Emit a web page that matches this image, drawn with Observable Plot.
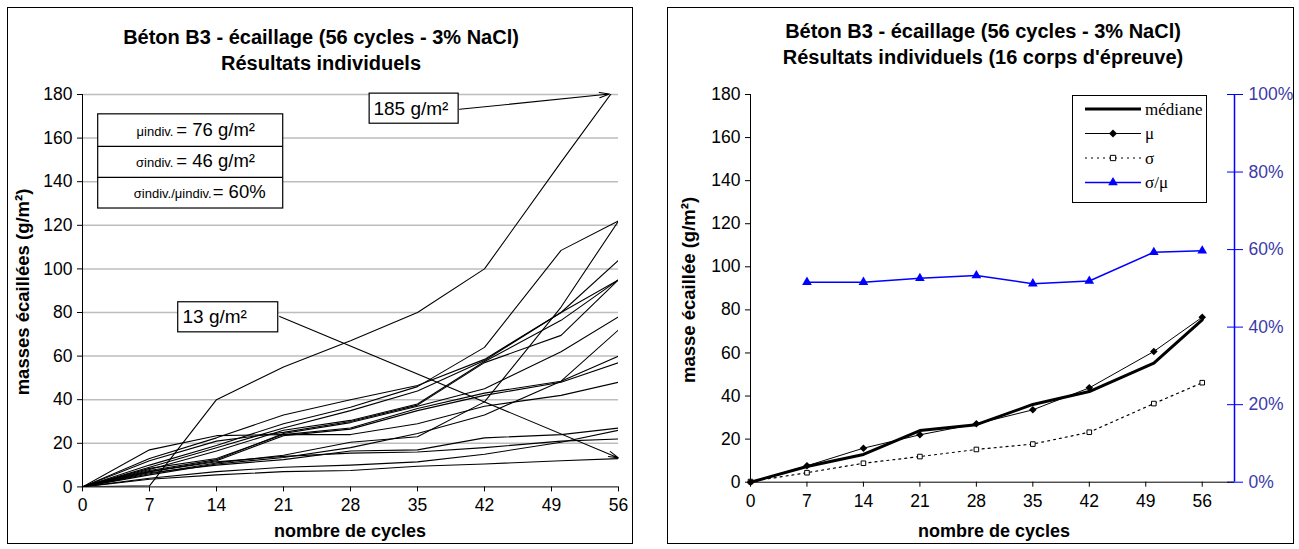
<!DOCTYPE html>
<html><head><meta charset="utf-8">
<script src="https://cdn.jsdelivr.net/npm/d3@7"></script>
<script src="https://cdn.jsdelivr.net/npm/@observablehq/plot@0.6"></script>
<style>
body{margin:0;background:#fff;width:1299px;height:549px;position:relative;overflow:hidden;font-family:"Liberation Sans",Arial,sans-serif;color:#000;}
.panel{position:absolute;border:1px solid #000;box-sizing:border-box;}
.title{position:absolute;text-align:center;font-weight:bold;font-size:20px;line-height:26px;white-space:nowrap;}
.abs{position:absolute;}
.xlab{position:absolute;font-weight:bold;font-size:18px;text-align:center;white-space:nowrap;transform:translate(-50%,-50%);}
.ylab{position:absolute;font-weight:bold;font-size:18.5px;white-space:nowrap;transform:translate(-50%,-50%) rotate(-90deg);}
.legend{position:absolute;border:1.5px solid #000;background:#fff;box-sizing:border-box;}
</style></head><body>
<div class="panel" style="left:7px;top:7px;width:626px;height:537px"></div>
<div class="panel" style="left:667px;top:7px;width:627px;height:537px"></div>
<div class="title" style="left:21px;width:600px;top:24px">Béton B3 - écaillage (56 cycles - 3% NaCl)<br>Résultats individuels</div>
<div class="title" style="left:683px;width:600px;top:18px">Béton B3 - écaillage (56 cycles - 3% NaCl)<br>Résultats individuels (16 corps d'épreuve)</div>
<div class="xlab" style="left:350px;top:531px">nombre de cycles</div>
<div class="xlab" style="left:994px;top:531px">nombre de cycles</div>
<div class="ylab" style="left:23px;top:292px">masses écaillées (g/m²)</div>
<div class="ylab" style="left:689px;top:290px">masse écaillée (g/m²)</div>
<div id="left" class="abs" style="left:0;top:80px"></div>
<div id="right" class="abs" style="left:660px;top:80px"></div>
<div id="legend" class="legend" style="left:1072px;top:95px;width:135px;height:108px"></div>
<script>
// ---------- data ----------
const cycles = [0, 7, 14, 21, 28, 35, 42, 50, 56];
const xTicks = [0, 7, 14, 21, 28, 35, 42, 49, 56];
const yTicks = [0, 20, 40, 60, 80, 100, 120, 140, 160, 180];
const pctTicks = [0, 20, 40, 60, 80, 100];

// individual specimens (g/m²)
const s01 = [0, 0.5, 40, 55, 67, 80, 100, 149, 185];
const s02 = [0, 10, 19, 29, 36.5, 46, 64, 108.5, 122];
const s03 = [0, 6, 11, 14.5, 20.5, 23, 39, 82.5, 122];
const s04 = [0, 9, 18, 27, 35, 44, 58, 80, 104];
const s05 = [0, 13, 22.5, 33, 40, 46.5, 58.5, 80, 95];
const s06 = [0, 8, 16.5, 26, 30.5, 38, 57.5, 76.4, 95];
const s07 = [0, 12, 21, 25, 30, 37.5, 57, 69.5, 95];
const s08 = [0, 7.5, 12.5, 24.5, 29.5, 37, 45, 62, 78];
const s09 = [0, 5.5, 10.5, 13.5, 18, 24.5, 33, 48.5, 72];
const s10 = [0, 8.5, 13, 24, 27, 36, 43, 48.5, 60];
const s11 = [0, 7, 12, 23.5, 26.5, 35, 42, 48, 57];
const s12 = [0, 17, 23.5, 24, 24, 29, 37, 42, 48];
const s13 = [0, 6.5, 10, 12.5, 16.5, 17, 22.5, 24, 27];
const s14 = [0, 4, 7, 9, 10, 11.5, 15, 20.5, 26];
const s15 = [0, 7, 11.5, 14, 15.5, 16, 18, 21, 22];
const s16 = [0, 3.5, 5.5, 7, 7.5, 9.5, 10.5, 12, 13];
const specimens = [s01, s02, s03, s04, s05, s06, s07, s08, s09, s10, s11, s12, s13, s14, s15, s16];

// summary statistics
const medianVals = [0, 7.3, 12.9, 24, 26.7, 36.1, 42.1, 55.3, 75.4];
const meanVals = [0, 7.6, 15.8, 22, 27.1, 33.6, 43.8, 60.7, 76.6];
const sigmaVals = [0.3, 4.4, 8.8, 11.9, 15.2, 17.7, 23.2, 36.5, 46.2];
const ratioCycles = [7, 14, 21, 28, 35, 42, 50, 56];
const ratioPct = [51.6, 51.6, 52.6, 53.3, 51.2, 51.9, 59.3, 59.7];

// annotations of the left chart (data coordinates)
const calloutBoxes = [
  {x1: 10.0, x2: 20.45, y1: 70.9, y2: 84.7},
  {x1: 30.0, x2: 39.3, y1: 166.6, y2: 180.4}
];
const calloutTexts = [
  {x: 10.45, y: 77.8, text: "13 g/m²"},
  {x: 30.4, y: 173.6, text: "185 g/m²"}
];
const calloutArrows = [
  {x1: 20.6, y1: 78.2, x2: 56, y2: 13.3},
  {x1: 39.4, y1: 173.2, x2: 55.05, y2: 180.2}
];
const statBox = [{x1: 1.64, x2: 20.97, y1: 127.7, y2: 170.9}];
const statDividers = [156.2, 142.0];
const statSmall = [
  {x: 9.5, y: 163.0, text: "μindiv."},
  {x: 9.5, y: 148.5, text: "σindiv."},
  {x: 13.5, y: 134.3, text: "σindiv./μindiv."}
];
const statBig = [
  {x: 9.8, y: 163.9, text: "= 76 g/m²"},
  {x: 9.8, y: 149.4, text: "= 46 g/m²"},
  {x: 13.6, y: 135.2, text: "= 60%"}
];

// ---------- build tables ----------
const indiv = [];
specimens.forEach((s, i) => s.forEach((v, j) => indiv.push({id: i, c: cycles[j], v})));
const med = cycles.map((c, j) => ({c, v: medianVals[j]}));
const mu = cycles.map((c, j) => ({c, v: meanVals[j]}));
const sig = cycles.map((c, j) => ({c, v: sigmaVals[j]}));
const ratio = ratioCycles.map((c, j) => ({c, p: ratioPct[j]}));
const pctToY = p => p * 180 / 100;

const baseStyle = {background: "transparent", fontFamily: "Liberation Sans, Arial, sans-serif", fontSize: "17.5px", color: "#000", overflow: "visible"};

// ---------- left chart ----------
const left = Plot.plot({
  width: 640, height: 460,
  marginLeft: 82, marginRight: 22, marginTop: 14, marginBottom: 53.6,
  style: baseStyle,
  x: {domain: [0, 56]},
  y: {domain: [0, 180]},
  marks: [
    Plot.gridY(yTicks.filter(d => d > 0), {stroke: "#bdbdbd", strokeOpacity: 1, strokeWidth: 1.5}),
    Plot.axisY(yTicks, {tickSize: 5, tickPadding: 5, label: null}),
    Plot.axisX(xTicks, {tickSize: 5, tickPadding: 7, label: null}),
    Plot.ruleX([0], {stroke: "#000"}),
    Plot.ruleY([0], {stroke: "#000"}),
    Plot.line(indiv, {x: "c", y: "v", z: "id", stroke: "#000", strokeWidth: 1.1, clip: true}),
    Plot.rect(statBox, {x1: "x1", x2: "x2", y1: "y1", y2: "y2", fill: "white", stroke: "#000", strokeWidth: 1.2}),
    Plot.ruleY(statDividers, {x1: statBox[0].x1, x2: statBox[0].x2, stroke: "#000", strokeWidth: 1.2}),
    Plot.text(statSmall, {x: "x", y: "y", text: "text", textAnchor: "end", fontSize: 13}),
    Plot.text(statBig, {x: "x", y: "y", text: "text", textAnchor: "start", fontSize: 18.5}),
    Plot.arrow(calloutArrows, {x1: "x1", y1: "y1", x2: "x2", y2: "y2", stroke: "#000", strokeWidth: 1.1, headLength: 14, headAngle: 30, bend: 0}),
    Plot.rect(calloutBoxes, {x1: "x1", x2: "x2", y1: "y1", y2: "y2", fill: "white", stroke: "#000", strokeWidth: 1.2}),
    Plot.text(calloutTexts, {x: "x", y: "y", text: "text", textAnchor: "start", fontSize: 19})
  ]
});
document.getElementById("left").appendChild(left);

// ---------- right chart ----------
const right = Plot.plot({
  width: 639, height: 460,
  marginLeft: 90, marginRight: 65, marginTop: 14, marginBottom: 58.3,
  style: baseStyle,
  x: {domain: [0, 60]},
  y: {domain: [0, 180]},
  marks: [
    Plot.axisY(yTicks, {tickSize: 5, tickPadding: 5, label: null}),
    Plot.axisX(xTicks, {tickSize: 5, tickPadding: 7, label: null}),
    Plot.axisY(pctTicks.map(pctToY), {anchor: "right", tickSize: 16, dx: -8, tickPadding: 6, stroke: "#0000ff", fill: "#3b3ba8", tickFormat: d => Math.round(d / 1.8) + "%", label: null}),
    Plot.ruleX([0], {stroke: "#000"}),
    Plot.ruleY([0], {stroke: "#000"}),
    Plot.ruleX([60], {stroke: "#0000ff", strokeWidth: 1.5}),
    Plot.line(ratio, {x: "c", y: d => pctToY(d.p), stroke: "#0000ff", strokeWidth: 1.5}),
    Plot.dot(ratio, {x: "c", y: d => pctToY(d.p), symbol: "triangle", fill: "#0000ff", r: 3.6}),
    Plot.line(sig, {x: "c", y: "v", stroke: "#000", strokeWidth: 1.2, strokeDasharray: "2,4"}),
    Plot.dot(sig, {x: "c", y: "v", symbol: "square", fill: "white", stroke: "#000", strokeWidth: 1, r: 2.6}),
    Plot.line(med, {x: "c", y: "v", stroke: "#000", strokeWidth: 3}),
    Plot.line(mu, {x: "c", y: "v", stroke: "#000", strokeWidth: 1}),
    Plot.dot(mu, {x: "c", y: "v", symbol: "diamond2", fill: "#000", r: 3.4})
  ]
});
document.getElementById("right").appendChild(right);

// ---------- legend ----------
const legendItems = [
  {label: "médiane", stroke: "#000", width: 3, dash: null, symbol: null},
  {label: "μ", stroke: "#000", width: 1, dash: null, symbol: "diamond"},
  {label: "σ", stroke: "#000", width: 1.2, dash: "2,4", symbol: "square"},
  {label: "σ/μ", stroke: "#0000ff", width: 1.5, dash: null, symbol: "triangle"}
];
const lsvg = d3.create("svg").attr("width", 132).attr("height", 105).style("display", "block");
legendItems.forEach((it, i) => {
  const y = 13 + i * 24.5;
  lsvg.append("line").attr("x1", 12).attr("x2", 68).attr("y1", y).attr("y2", y)
    .attr("stroke", it.stroke).attr("stroke-width", it.width).attr("stroke-dasharray", it.dash);
  if (it.symbol) {
    const path = it.symbol === "diamond"
      ? "M0,-4L4,0L0,4L-4,0Z"
      : d3.symbol(it.symbol === "square" ? d3.symbolSquare : d3.symbolTriangle, it.symbol === "square" ? 28 : 40)();
    lsvg.append("path").attr("d", path).attr("transform", `translate(40,${y})`)
      .attr("fill", it.symbol === "square" ? "#fff" : it.stroke).attr("stroke", it.stroke).attr("stroke-width", it.symbol === "square" ? 1 : 0);
  }
  lsvg.append("text").attr("x", 72).attr("y", y).attr("dy", "0.35em")
    .attr("font-family", "Liberation Serif, Times New Roman, serif").attr("font-size", 17).text(it.label);
});
document.getElementById("legend").appendChild(lsvg.node());
</script>
</body></html>
